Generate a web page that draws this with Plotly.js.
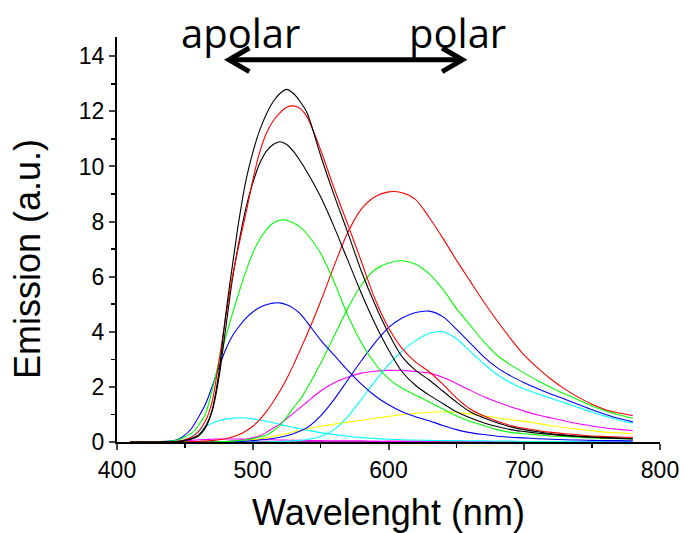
<!DOCTYPE html>
<html>
<head>
<meta charset="utf-8">
<script src="https://cdn.plot.ly/plotly-3.0.1.min.js"></script>
<style>html,body{margin:0;padding:0;background:#fff;}#chart{width:684px;height:533px;}</style>
</head>
<body>
<div id="chart"></div>
<script>
const wavelength = [410,420,430,440,445,450,455,460,465,470,475,480,485,490,495,500,505,510,515,520,525,530,535,540,550,560,570,580,590,600,610,620,630,640,650,660,670,680,690,700,710,720,730,740,750,760,770,780];

const black1 = [0,0,0,0.01, 0.02,0.06,0.13,0.25,0.55,1.15,2.5,4.6,6.4,8.1,9.5,10.5,11.3,11.9,12.35,12.65,12.8,12.65,12.35,11.95, 10.4,8.95,7.6,6.2,5.0,3.95,3.1,2.6,2.25,1.85,1.45,1.1,0.88,0.7,0.55,0.45,0.37,0.3,0.25,0.21,0.18,0.16,0.14,0.12];
const red1 = [0,0,0,0.01, 0.03,0.08,0.17,0.38,0.75,1.45,2.9,4.5,6.0,7.2,8.3,9.5,10.5,11.2,11.65,11.95,12.15,12.2,12.1,11.8, 10.6,9.2,7.9,6.55,5.2,4.15,3.4,2.9,2.55,2.1,1.6,1.2,0.95,0.75,0.6,0.5,0.42,0.35,0.3,0.26,0.22,0.2,0.18,0.17];
const black2 = [0,0,0,0.01, 0.02,0.05,0.11,0.22,0.5,1.1,2.3,4.1,5.9,7.3,8.5,9.4,10.1,10.55,10.8,10.9,10.8,10.55,10.2,9.8, 8.9,7.8,6.6,5.4,4.3,3.35,2.55,2.05,1.7,1.4,1.1,0.88,0.7,0.56,0.45,0.38,0.32,0.27,0.23,0.2,0.17,0.15,0.13,0.12];
const green1 = [0,0,0.01,0.03, 0.08,0.18,0.32,0.6,1.0,1.85,2.9,3.8,4.65,5.45,6.2,6.85,7.35,7.7,7.95,8.05,8.05,7.95,7.8,7.55, 6.85,5.8,4.6,3.6,2.85,2.3,1.95,1.7,1.45,1.2,0.95,0.75,0.6,0.45,0.35,0.3,0.26,0.22,0.2,0.17,0.15,0.13,0.12,0.11];
const blue1 = [0,0,0.01,0.04, 0.1,0.25,0.5,0.9,1.35,2.0,2.7,3.35,3.85,4.2,4.5,4.72,4.88,4.98,5.04,5.05,4.98,4.85,4.65,4.35, 3.7,3.15,2.6,2.1,1.68,1.35,1.1,0.92,0.77,0.6,0.45,0.34,0.27,0.21,0.17,0.15,0.12,0.1,0.08,0.07,0.06,0.05,0.05,0.04];
const red2 = [0,0,0,0, 0,0,0.01,0.02,0.03,0.05,0.08,0.12,0.18,0.27,0.4,0.57,0.8,1.1,1.45,1.85,2.3,2.8,3.35,3.9, 5.1,6.4,7.6,8.45,8.9,9.08,9.05,8.8,8.15,7.4,6.6,5.85,5.1,4.4,3.75,3.15,2.68,2.27,1.92,1.62,1.37,1.17,1.05,0.95];
const green2 = [0,0,0,0, 0,0,0,0,0,0,0.01,0.02,0.03,0.05,0.08,0.12,0.18,0.25,0.4,0.6,0.9,1.25,1.55,1.95, 2.85,3.85,4.85,5.7,6.25,6.5,6.58,6.45,6.1,5.55,4.85,4.25,3.65,3.15,2.8,2.5,2.22,1.97,1.74,1.52,1.31,1.13,0.98,0.86];
const blue2 = [0,0,0,0, 0,0,0,0,0,0,0,0,0.01,0.02,0.03,0.05,0.07,0.1,0.13,0.17,0.23,0.3,0.4,0.52, 0.95,1.55,2.25,2.95,3.6,4.15,4.5,4.7,4.75,4.55,4.1,3.6,3.1,2.7,2.4,2.15,1.93,1.73,1.55,1.36,1.17,1.0,0.85,0.73];
const cyan2 = [0,0,0,0, 0,0,0,0,0,0,0,0,0,0,0,0,0,0,0.01,0.02,0.03,0.04,0.06,0.09, 0.2,0.45,0.92,1.55,2.2,2.8,3.3,3.68,3.95,4.0,3.75,3.3,2.85,2.45,2.15,1.92,1.75,1.58,1.42,1.25,1.08,0.93,0.79,0.68];
const magenta1 = [0,0,0,0, 0,0,0,0,0,0,0.01,0.02,0.04,0.06,0.1,0.15,0.23,0.35,0.5,0.65,0.85,1.05,1.25,1.45, 1.85,2.15,2.35,2.5,2.57,2.6,2.6,2.56,2.5,2.35,2.12,1.88,1.65,1.45,1.28,1.12,0.98,0.87,0.76,0.66,0.58,0.51,0.46,0.41];
const yellow1 = [0,0,0,0, 0,0,0,0,0,0,0,0,0.01,0.03,0.05,0.08,0.11,0.15,0.2,0.25,0.31,0.37,0.42,0.47, 0.57,0.65,0.72,0.79,0.86,0.93,0.99,1.04,1.08,1.1,1.08,1.02,0.95,0.88,0.81,0.75,0.67,0.59,0.52,0.46,0.41,0.36,0.33,0.3];
const cyan1 = [0,0,0,0, 0.02,0.08,0.2,0.38,0.55,0.68,0.77,0.83,0.86,0.88,0.87,0.84,0.8,0.75,0.7,0.64,0.58,0.53,0.48,0.43, 0.34,0.27,0.21,0.16,0.13,0.1,0.08,0.07,0.06,0.05,0.05,0.04,0.04,0.03,0.03,0.02,0.02,0.02,0.02,0.01,0.01,0.01,0.01,0.01];
const magenta2 = [0.01,0.01,0.01,0.02, 0.03,0.04,0.06,0.08,0.09,0.1,0.11,0.11,0.11,0.11,0.1,0.1,0.09,0.08,0.08,0.07,0.07,0.06,0.06,0.05, 0.05,0.04,0.04,0.04,0.03,0.03,0.03,0.03,0.03,0.03,0.03,0.02,0.02,0.02,0.02,0.02,0.02,0.02,0.02,0.02,0.02,0.02,0.02,0.02];
const purple1 = [0.01,0.01,0.01,0.01, 0.01,0.01,0.01,0.01,0.01,0.01,0.01,0.01,0.01,0.01,0.01,0.01,0.01,0.01,0.01,0.01,0.01,0.01,0.01,0.01, 0.01,0.01,0.01,0.01,0.01,0.01,0.01,0.01,0.01,0.01,0.01,0.01,0.01,0.01,0.01,0.01,0.01,0.01,0.01,0.01,0.01,0.01,0.01,0.01];

const xTickVals = [400, 500, 600, 700, 800];
const yTickVals = [0, 2, 4, 6, 8, 10, 12, 14];
const xTitle = 'Wavelenght (nm)';
const yTitle = 'Emission (a.u.)';

const seriesList = [
  {y: purple1, c: '#800080'},
  {y: magenta2, c: '#ff00ff'},
  {y: cyan1, c: '#00ffff'},
  {y: yellow1, c: '#ffff00'},
  {y: magenta1, c: '#ff00ff'},
  {y: cyan2, c: '#00ffff'},
  {y: blue2, c: '#0000ff'},
  {y: green2, c: '#00ff00'},
  {y: red2, c: '#ff0000'},
  {y: blue1, c: '#0000ff'},
  {y: green1, c: '#00ff00'},
  {y: black2, c: '#000000'},
  {y: red1, c: '#ff0000'},
  {y: black1, c: '#000000'}
];

const traces = seriesList.map(s => ({
  x: wavelength, y: s.y, type: 'scatter', mode: 'lines',
  line: {color: s.c, width: 1.1, shape: 'spline', smoothing: 0.8},
  hoverinfo: 'skip', showlegend: false
}));

const arrowY = 13.87;
const arrowLeft = 482.5, arrowRight = 654.5;
const shapes = [
  {type: 'line', xref: 'x', yref: 'y', x0: arrowLeft + 2, x1: arrowRight - 2, y0: arrowY, y1: arrowY, line: {color: '#000', width: 5}},
  {type: 'path', xref: 'x', yref: 'y', path: `M${arrowLeft+15},${arrowY+0.43} L${arrowLeft},${arrowY} L${arrowLeft+15},${arrowY-0.43}`, line: {color: '#000', width: 5}},
  {type: 'path', xref: 'x', yref: 'y', path: `M${arrowRight-15},${arrowY+0.43} L${arrowRight},${arrowY} L${arrowRight-15},${arrowY-0.43}`, line: {color: '#000', width: 5}}
];

const layout = {
  width: 684, height: 533,
  margin: {l: 117, r: 24, t: 37, b: 91},
  paper_bgcolor: '#fff', plot_bgcolor: '#fff',
  font: {family: 'Liberation Sans, Arial, sans-serif', color: '#000'},
  showlegend: false,
  xaxis: {
    range: [400, 800], tickvals: xTickVals, ticks: 'outside', ticklen: 6, tickwidth: 2,
    showline: true, linewidth: 2, linecolor: '#000', showgrid: false, zeroline: false,
    tickfont: {size: 23}, minor: {tickvals: [450, 550, 650, 750], ticks: 'outside', ticklen: 4, tickwidth: 1.5, tickcolor: '#000'},
    title: {text: xTitle, font: {size: 36}, standoff: 19}
  },
  yaxis: {
    range: [0, 14.7], tickvals: yTickVals, ticks: 'outside', ticklen: 6, tickwidth: 2,
    showline: true, linewidth: 2, linecolor: '#000', showgrid: false, zeroline: false,
    tickfont: {size: 23}, minor: {tickvals: [1, 3, 5, 7, 9, 11, 13], ticks: 'outside', ticklen: 4, tickwidth: 1.5, tickcolor: '#000'}
  },
  shapes: shapes,
  annotations: [
    {text: yTitle, xref: 'paper', yref: 'paper', x: -0.165, y: 0.4527, xanchor: 'center', yanchor: 'middle', textangle: -90, showarrow: false, font: {size: 36, color: '#000'}},
    {text: 'apolar', xref: 'paper', yref: 'paper', x: 0.2267, y: 1.012, xanchor: 'center', yanchor: 'middle', showarrow: false, font: {family: 'Open Sans, sans-serif', size: 40, color: '#000'}},
    {text: 'polar', xref: 'paper', yref: 'paper', x: 0.6276, y: 1.012, xanchor: 'center', yanchor: 'middle', showarrow: false, font: {family: 'Open Sans, sans-serif', size: 40, color: '#000'}}
  ]
};

Plotly.newPlot('chart', traces, layout, {displayModeBar: false, staticPlot: true});
</script>
</body>
</html>
